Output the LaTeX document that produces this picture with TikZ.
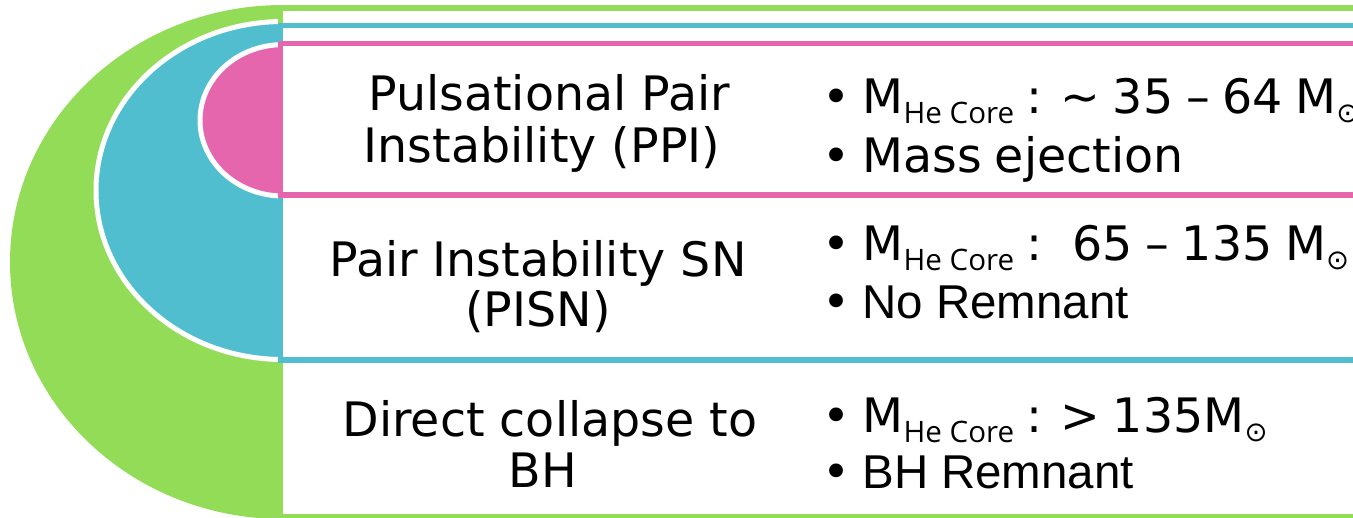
\documentclass[tikz,border=0pt]{standalone}
\usepackage{fontspec}
\setmainfont{DejaVu Sans}
\newfontfamily\libsans{Liberation Sans}
\newfontfamily\opensans{Open Sans}
\definecolor{cgreen}{RGB}{146,220,88}
\definecolor{cblue}{RGB}{80,190,206}
\definecolor{cpink}{RGB}{230,102,174}
\newcommand{\tightsp}{\spaceskip=3.6pt\relax}
\newcommand{\hecore}{\raisebox{-2.9pt}{\opensans\fontsize{8.4}{9}\selectfont\spaceskip=0pt\relax He Core}}
\newcommand{\msun}{\raisebox{-2.6pt}{\fontsize{7.8}{9}\selectfont ⊙}}
\begin{document}
\begin{tikzpicture}[x=0.01cm,y=-0.01cm,
  lbl/.style={font=\fontsize{13.5}{16}\selectfont, inner sep=0pt, anchor=base},
  itm/.style={font=\fontsize{13.5}{16}\selectfont\tightsp, inner sep=0pt, anchor=base west},
  bul/.style={font=\fontsize{13.5}{16}\selectfont, inner sep=0pt, anchor=base},
  band/.style={line width=1.56pt, fill=white},
  ring/.style={draw=white, line width=1.42pt}]
\useasboundingbox (0,0) rectangle (1353,517);
% half ellipses
\begin{scope}
  \clip (0,0) rectangle (283,517);
  \fill[cgreen] (283,262) ellipse [x radius=273, y radius=257];
  \filldraw[fill=cblue, ring] (283,190.5) ellipse [x radius=187, y radius=169];
  \filldraw[fill=cpink, ring] (283,120.3) ellipse [x radius=83, y radius=75.7];
\end{scope}
% bands
\draw[band, draw=cgreen] (280.5,8) rectangle (1362,516.5);
\draw[band, draw=cblue] (280.5,25.5) rectangle (1362,360);
\draw[band, draw=cpink] (280.5,43.5) rectangle (1362,195);
% left labels
\node[lbl] (ppiA) at (549,110) {Pulsational Pair};
\node[lbl] (ppiB) at (542,162) {Instability (PPI)};
\node[lbl] (pisnA) at (538,276) {Pair Instability SN};
\node[lbl] (pisnB) at (538,326) {(PISN)};
\node[lbl] (dcA) at (550,436) {Direct collapse to};
\node[lbl] (dcB) at (543,487) {BH};
% bullets
\node[bul] (b1) at (837,113) {•};
\node[bul] (b2) at (837,172) {•};
\node[bul] (b3) at (837,260) {•};
\node[bul] (b4) at (837,318) {•};
\node[bul] (b5) at (837,432) {•};
\node[bul] (b6) at (837,488) {•};
% items
\node[itm] (i1) at (862,113) {M\hecore\ : \textasciitilde\ 35 – 64 M\msun};
\node[itm] (i2) at (862,172) {Mass ejection};
\node[itm] (i3) at (862,260) {M\hecore\ :\ \ \hspace{1.2pt}65 – 135 M\msun};
\node[itm] (i4) at (862,318) {\libsans No Remnant};
\node[itm] (i5) at (862,432) {M\hecore\ : > 135M\msun};
\node[itm] (i6) at (862,488) {\libsans BH Remnant};
\end{tikzpicture}
\end{document}
